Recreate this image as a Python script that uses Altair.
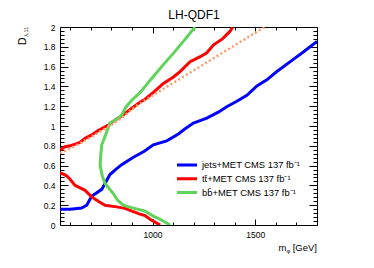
import altair as alt
import pandas as pd

# ---------------- data ----------------
jets_x = [550, 600, 655, 680, 704, 753, 793, 820, 850, 907, 960, 1004, 1069, 1126, 1160,
          1199, 1264, 1320, 1361, 1410, 1459, 1508, 1556, 1605, 1670, 1735, 1800]
jets_y = [0.16, 0.16, 0.172, 0.2, 0.29, 0.36, 0.51, 0.56, 0.61, 0.685, 0.745, 0.81, 0.85, 0.92, 0.975,
          1.03, 1.08, 1.14, 1.195, 1.25, 1.31, 1.405, 1.466, 1.55, 1.65, 1.75, 1.855]

tt_up_x = [550, 574, 600, 647, 672, 700, 736, 785, 818, 850, 899, 939, 964, 1004, 1053, 1102,
           1134, 1183, 1232, 1264, 1297, 1340, 1378, 1390]
tt_up_y = [0.757, 0.79, 0.80, 0.835, 0.875, 0.905, 0.955, 1.01, 1.06, 1.10, 1.18, 1.24, 1.27, 1.34,
           1.43, 1.495, 1.55, 1.65, 1.70, 1.74, 1.82, 1.88, 1.96, 2.0]

tt_lo_x = [550, 565, 582, 600, 623, 672, 704, 740, 769, 826, 866, 900, 939, 964, 988, 1037]
tt_lo_y = [0.525, 0.515, 0.497, 0.46, 0.40, 0.35, 0.284, 0.235, 0.2, 0.183, 0.168, 0.14, 0.11,
           0.095, 0.058, 0.0]

bb_x = [1086, 1060, 1037, 1004, 964, 907, 858, 830, 809, 769, 755, 745, 748, 753, 770, 793, 826,
        850, 870, 899, 939, 964, 1004, 1053, 1102, 1150, 1207]
bb_y = [0.0, 0.03, 0.058, 0.09, 0.14, 0.17, 0.2, 0.25, 0.318, 0.42, 0.5, 0.605, 0.7, 0.81, 0.9,
        1.03, 1.07, 1.11, 1.19, 1.26, 1.337, 1.40, 1.50, 1.62, 1.736, 1.855, 2.0]

exp_x = [550, 600, 650, 700, 750, 800, 850, 900, 950, 1000, 1100, 1200, 1300, 1400, 1545]
exp_y = [0.725, 0.775, 0.83, 0.89, 0.95, 1.01, 1.08, 1.17, 1.245, 1.307, 1.434, 1.561, 1.688,
         1.815, 2.0]

series_labels = ["jets+MET CMS 137 fb\u207b\u00b9",
                 "tt\u0304+MET CMS 137 fb\u207b\u00b9",
                 "bb\u0304+MET CMS 137 fb\u207b\u00b9"]
series_colors = ["#0000ff", "#ff0000", "#5fd35a"]
exp_color = "#ff9966"

x_major = [1000, 1500]
x_minor = [600, 700, 800, 900, 1000, 1100, 1200, 1300, 1400, 1500, 1600, 1700, 1800]
y_major = [0, 0.2, 0.4, 0.6, 0.8, 1.0, 1.2, 1.4, 1.6, 1.8, 2.0]
y_minor = [round(i * 0.04, 2) for i in range(51)]

title_text = ["LH-QDF1"]
ytitle_parts = ["D", "\u03bb,11"]
xtitle_parts = ["m", "\u03c6", " [GeV]"]

FONT = "Liberation Sans"
W, H = 257, 198

# ---------------- tables ----------------
rows = []
for seg, lab, xs_, ys_ in [("jets", series_labels[0], jets_x, jets_y),
                           ("tt_up", series_labels[1], tt_up_x, tt_up_y),
                           ("tt_lo", series_labels[1], tt_lo_x, tt_lo_y),
                           ("bb", series_labels[2], bb_x, bb_y)]:
    for i, (a, b) in enumerate(zip(xs_, ys_)):
        rows.append({"seg": seg, "series": lab, "x": a, "y": b, "idx": i})
df = pd.DataFrame(rows)
df_exp = pd.DataFrame({"x": exp_x, "y": exp_y, "idx": list(range(len(exp_x)))})

xs = alt.Scale(domain=[550, 1800], nice=False, zero=False)
ys = alt.Scale(domain=[0, 2], nice=False, zero=False)
cscale = alt.Scale(domain=series_labels, range=series_colors)

lines = alt.Chart(df).mark_line(strokeWidth=3, clip=True).encode(
    x=alt.X("x:Q", scale=xs, title=None,
            axis=alt.Axis(values=x_major, format="d", ticks=False, tickSize=0, domain=False,
                          grid=False, labelPadding=5, labelFontSize=8.5, labelFont=FONT,
                          labelColor="black")),
    y=alt.Y("y:Q", scale=ys, title=None,
            axis=alt.Axis(values=y_major, format="~g", ticks=False, tickSize=0, domain=False,
                          grid=False, labelPadding=5, labelFontSize=8.5, labelFont=FONT,
                          labelColor="black")),
    color=alt.Color("series:N", scale=cscale, legend=None),
    detail="seg:N",
    order="idx:Q",
)

dotted = alt.Chart(df_exp).mark_line(strokeWidth=2.5, strokeDash=[2, 2.5], color=exp_color,
                                     clip=True).encode(
    x=alt.X("x:Q", scale=xs, axis=None),
    y=alt.Y("y:Q", scale=ys, axis=None),
    order="idx:Q",
)


def cond(test, big, small):
    return {"condition": {"test": test, "value": big}, "value": small}


xtest = "datum.value % 500 == 0"
ytest = "abs(datum.value * 5 - round(datum.value * 5)) < 0.001"
tick_df = pd.DataFrame({"x": [1000], "y": [1.0]})


def tick_layer(xorient, yorient):
    return alt.Chart(tick_df).mark_point(opacity=0).encode(
        x=alt.X("x:Q", scale=xs, title=None,
                axis=alt.Axis(orient=xorient, offset=-H, values=x_minor, labels=False,
                              domain=False, grid=False, tickColor="black", tickWidth=1,
                              tickSize=cond(xtest, 6, 3))),
        y=alt.Y("y:Q", scale=ys, title=None,
                axis=alt.Axis(orient=yorient, offset=-W, values=y_minor, labels=False,
                              domain=False, grid=False, tickColor="black", tickWidth=1,
                              tickSize=cond(ytest, 8, 4))),
    )


ticks_a = tick_layer("top", "right")     # bottom & left inward ticks
ticks_b = tick_layer("bottom", "left")   # top & right inward ticks

leg_df = pd.DataFrame({"label": series_labels})
leg_y = alt.Y("label:N", axis=None,
              scale=alt.Scale(type="point", domain=series_labels, range=[138, 165.5], padding=0))
leg_rules = alt.Chart(leg_df).mark_rule(strokeWidth=3).encode(
    x=alt.value(117), x2=alt.value(137), y=leg_y,
    color=alt.Color("label:N", scale=cscale, legend=None),
)
leg_text = alt.Chart(leg_df).mark_text(align="left", baseline="middle", fontSize=9.4,
                                       font=FONT, color="black").encode(
    x=alt.value(142), y=leg_y, text="label:N")

title = alt.Chart(pd.DataFrame({"t": title_text})).mark_text(
    align="center", baseline="alphabetic", fontSize=12, font=FONT, color="black").encode(
    x=alt.value(134), y=alt.value(-8.5), text="t:N")

yt_df = pd.DataFrame({"t": ytitle_parts})
yt_main = alt.Chart(yt_df.iloc[[0]]).mark_text(
    align="left", baseline="alphabetic", angle=270, fontSize=10.5, font=FONT, color="black").encode(
    x=alt.value(-34), y=alt.value(18), text="t:N")
yt_sub = alt.Chart(yt_df.iloc[[1]]).mark_text(
    align="left", baseline="alphabetic", angle=270, fontSize=5.5, font=FONT, color="black").encode(
    x=alt.value(-32.5), y=alt.value(9.8), text="t:N")

xt_df = pd.DataFrame({"t": xtitle_parts})
xt_m = alt.Chart(xt_df.iloc[[0]]).mark_text(
    align="right", baseline="alphabetic", fontSize=9.5, font=FONT, color="black").encode(
    x=alt.value(226.5), y=alt.value(224), text="t:N")
xt_phi = alt.Chart(xt_df.iloc[[1]]).mark_text(
    align="right", baseline="alphabetic", fontSize=6, font=FONT, color="black").encode(
    x=alt.value(230.5), y=alt.value(226), text="t:N")
xt_gev = alt.Chart(xt_df.iloc[[2]]).mark_text(
    align="right", baseline="alphabetic", fontSize=9.5, font=FONT, color="black").encode(
    x=alt.value(257), y=alt.value(224), text="t:N")

chart = alt.layer(
    lines, dotted, ticks_a, ticks_b, leg_rules, leg_text, title, yt_main, yt_sub,
    xt_m, xt_phi, xt_gev,
).resolve_scale(
    x="independent", y="independent"
).properties(
    width=W, height=H,
    padding={"left": 52, "top": 19, "right": 40, "bottom": 30},
    autosize=alt.AutoSizeParams(type="none"),
    background="white",
).configure_view(
    stroke="black", strokeWidth=1
)

chart.save("out.html", embed_options={"renderer": "svg", "actions": False})
